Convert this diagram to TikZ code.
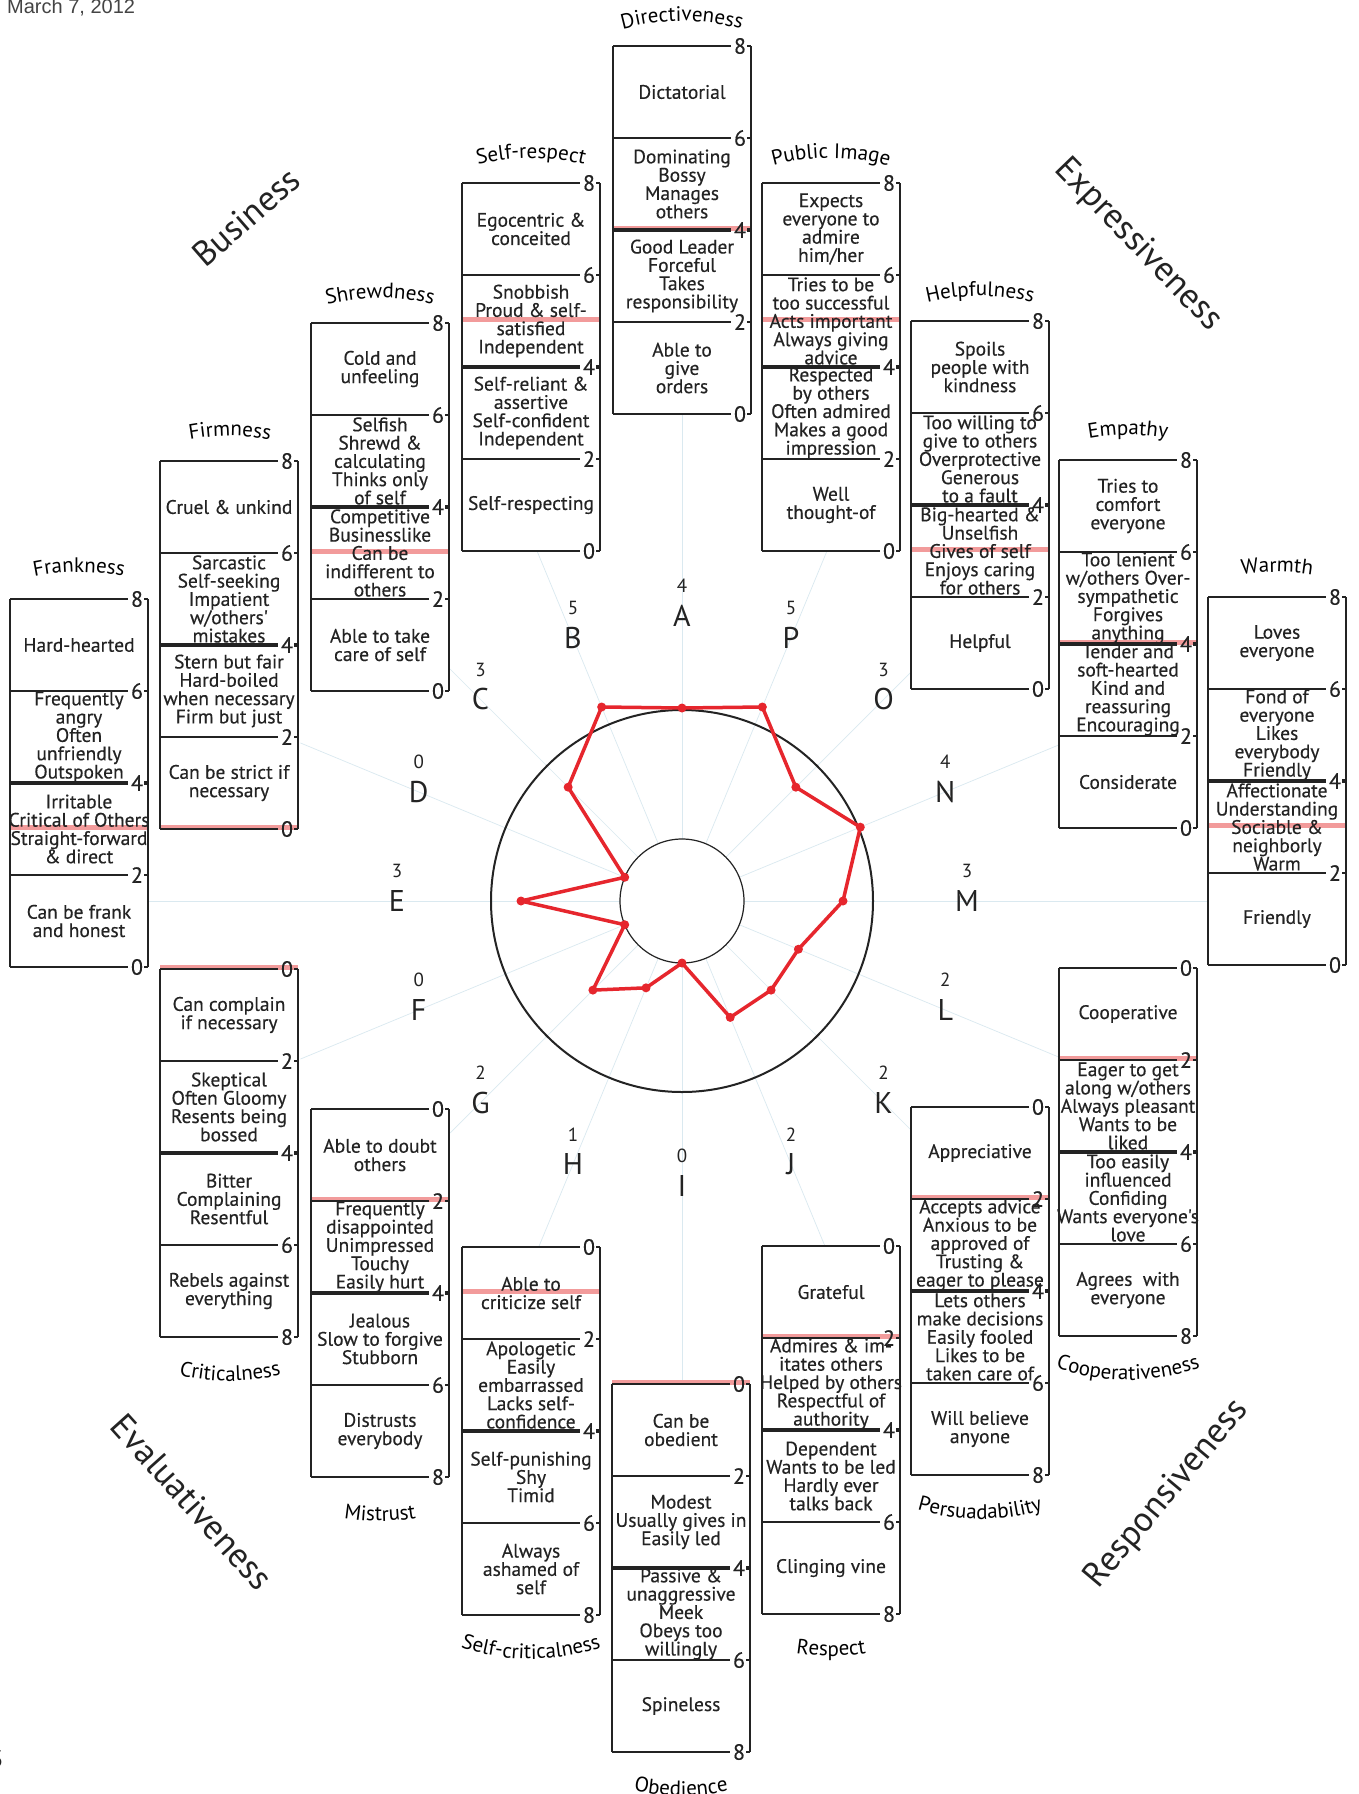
\documentclass[tikz,border=0pt]{standalone}
\usepackage{fontspec}
\setmainfont{PT Sans}
\newfontfamily\boxfam{PT Sans}[FakeBold=0.35]
\newfontfamily\datefont{Liberation Sans}
\usetikzlibrary{decorations.text}
\definecolor{inkc}{RGB}{35,35,35}
\definecolor{pinkc}{RGB}{242,155,155}
\definecolor{redc}{RGB}{230,38,45}
\definecolor{spokec}{RGB}{218,233,240}
\newcommand{\ttlfont}{\fontsize{21}{21}\selectfont}
\tikzset{
  rule/.style={line width=1.7pt, draw=inkc},
  pinkline/.style={line width=5pt, draw=pinkc},
  numlab/.style={font=\boxfam\fontsize{22}{22}\selectfont, text=inkc, inner sep=0pt},
  seg/.style={font=\boxfam\fontsize{19.5}{18.3}\selectfont, text=inkc, align=center, inner sep=0pt},
  boxarea/.style={inner sep=0pt, minimum width=138pt, minimum height=368pt, draw=none},
  spoke/.style={line width=0.7pt, draw=spokec},
  letterlab/.style={font=\fontsize{30}{30}\selectfont, text=inkc, inner sep=0pt},
  scorelab/.style={font=\fontsize{19}{19}\selectfont, text=inkc, inner sep=0pt},
  cornerlab/.style={font=\fontsize{35}{35}\selectfont, text=inkc, inner sep=0pt},
  redline/.style={line width=3.5pt, draw=redc, line join=round},
}
% #1 name, #2 left, #3 top (px from top), #4 1 = 8 at top / 0 = 0 at top, #5 score, #6-#9 texts
\newcommand{\ratebox}[9]{%
  \pgfmathsetmacro{\bxL}{#2}%
  \pgfmathsetmacro{\bxR}{#2+138}%
  \pgfmathsetmacro{\bxT}{-(#3)}%
  \pgfmathsetmacro{\bxB}{-(#3)-368}%
  \pgfmathsetmacro{\bxC}{#2+69}%
  \pgfmathsetmacro{\bxP}{ifthenelse(#4==1, \bxT-(8-#5)*46, \bxT-(#5)*46)+2}%
  \fill[white] (\bxL,\bxB) rectangle (\bxR,\bxT);
  \node[boxarea, anchor=north west] (#1) at (\bxL,\bxT) {};
  \draw[pinkline] (\bxL,\bxP) -- (\bxR,\bxP);
  \draw[rule] (\bxL,\bxT) -- (\bxL,\bxB);
  \draw[rule] (\bxR,\bxT) -- (\bxR,\bxB);
  \foreach \k in {0,...,4}{%
    \pgfmathsetmacro{\bxyy}{\bxT-92*\k}%
    \pgfmathtruncatemacro{\bxlab}{ifthenelse(#4==1, 8-2*\k, 2*\k)}%
    \ifnum\bxlab=4 \def\bxlw{4pt}\else\def\bxlw{1.7pt}\fi
    \draw[line width=\bxlw, draw=inkc] (\bxL,\bxyy) -- (\bxR-20,\bxyy);
    \draw[line width=\bxlw, draw=inkc] (\bxR-4,\bxyy) -- (\bxR,\bxyy);
    \node[numlab] at (\bxR-11,\bxyy) {\bxlab};
  }
  \node[seg] at (\bxC, \bxT-46) {#6};
  \node[seg] at (\bxC, \bxT-138) {#7};
  \node[seg] at (\bxC, \bxT-230) {#8};
  \node[seg] at (\bxC, \bxT-322) {#9};
}
% arched titles: #1 centre x, #2 baseline y (px from top), #3 text
\newcommand{\ttop}[3]{%
  \path[decorate, decoration={text along path, text={|\ttlfont|#3}, text align=center}]
    ({#1-110},{-(#2)-29.5}) .. controls ({#1-41.9},{-(#2)+9.8}) and ({#1+41.9},{-(#2)+9.8}) .. ({#1+110},{-(#2)-29.5});}
\newcommand{\tbot}[3]{%
  \path[decorate, decoration={text along path, text={|\ttlfont|#3}, text align=center}]
    ({#1-110},{-(#2)+29.5}) .. controls ({#1-41.9},{-(#2)-9.8}) and ({#1+41.9},{-(#2)-9.8}) .. ({#1+110},{-(#2)+29.5});}

\begin{document}
\begin{tikzpicture}[x=1pt,y=1pt]
\useasboundingbox (0,-1794) rectangle (1358,0);
\fill[white] (0,-1794) rectangle (1358,0);
\coordinate (ctr) at (682,-901);

% spokes
\foreach \lt/\ang/\tend in {A/90/488, B/112.5/379, C/135/328, D/157.5/413, E/180/533, F/202.5/413, G/225/328, H/247.5/374, I/270/483, J/292.5/374, K/315/324, L/337.5/408, M/0/526, N/22.5/408, O/45/324, P/67.5/379}{
  \coordinate (s\lt) at ([shift={(\ang:\tend)}]ctr);
  \coordinate (q\lt) at ([shift={(\ang:62)}]ctr);
  \draw[spoke] (q\lt) -- (s\lt);
}

% top boxes
\ratebox{bA}{613}{46}{1}{4}{Dictatorial}{Dominating\\Bossy\\Manages\\others}{Good Leader\\Forceful\\Takes\\responsibility}{Able to\\give\\orders}
\ratebox{bB}{462}{183}{1}{5}{Egocentric \&\\conceited}{Snobbish\\Proud \& self-\\satisfied\\Independent}{Self-reliant \&\\assertive\\Self-confident\\Independent}{Self-respecting}
\ratebox{bP}{762}{183}{1}{5}{Expects\\everyone to\\admire\\him/her}{Tries to be\\too successful\\Acts important\\Always giving\\advice}{Respected\\by others\\Often admired\\Makes a good\\impression}{Well\\thought-of}
\ratebox{bC}{311}{323}{1}{3}{Cold and\\unfeeling}{Selfish\\Shrewd \&\\calculating\\Thinks only\\of self}{Competitive\\Businesslike\\Can be\\indifferent to\\others}{Able to take\\care of self}
\ratebox{bO}{911}{321}{1}{3}{Spoils\\people with\\kindness}{Too willing to\\give to others\\Overprotective\\Generous\\to a fault}{Big-hearted \&\\Unselfish\\Gives of self\\Enjoys caring\\for others}{Helpful}
\ratebox{bD}{160}{461}{1}{0}{Cruel \& unkind}{Sarcastic\\Self-seeking\\Impatient\\w/others'\\mistakes}{Stern but fair\\Hard-boiled\\when necessary\\Firm but just}{Can be strict if\\necessary}
\ratebox{bN}{1059}{460}{1}{4}{Tries to\\comfort\\everyone}{Too lenient\\w/others Over-\\sympathetic\\Forgives\\anything}{Tender and\\soft-hearted\\Kind and\\reassuring\\Encouraging}{Considerate}
\ratebox{bE}{10}{599}{1}{3}{Hard-hearted}{Frequently\\angry\\Often\\unfriendly\\Outspoken}{Irritable\\Critical of Others\\Straight-forward\\\& direct}{Can be frank\\and honest}
\ratebox{bM}{1208}{597}{1}{3}{Loves\\everyone}{Fond of\\everyone\\Likes\\everybody\\Friendly}{Affectionate\\Understanding\\Sociable \&\\neighborly\\Warm}{Friendly}
% bottom boxes
\ratebox{bF}{160}{969}{0}{0}{Can complain\\if necessary}{Skeptical\\Often Gloomy\\Resents being\\bossed}{Bitter\\Complaining\\Resentful}{Rebels against\\everything}
\ratebox{bL}{1059}{968}{0}{2}{Cooperative}{Eager to get\\along w/others\\Always pleasant\\Wants to be\\liked}{Too easily\\influenced\\Confiding\\Wants everyone's\\love}{Agrees\ \ with\\everyone}
\ratebox{bG}{311}{1109}{0}{2}{Able to doubt\\others}{Frequently\\disappointed\\Unimpressed\\Touchy\\Easily hurt}{Jealous\\Slow to forgive\\Stubborn}{Distrusts\\everybody}
\ratebox{bK}{911}{1107}{0}{2}{Appreciative}{Accepts advice\\Anxious to be\\approved of\\Trusting \&\\eager to please}{Lets others\\make decisions\\Easily fooled\\Likes to be\\taken care of}{Will believe\\anyone}
\ratebox{bH}{462}{1247}{0}{1}{Able to\\criticize self}{Apologetic\\Easily\\embarrassed\\Lacks self-\\confidence}{Self-punishing\\Shy\\Timid}{Always\\ashamed of\\self}
\ratebox{bJ}{762}{1246}{0}{2}{Grateful}{Admires \& im-\\itates others\\Helped by others\\Respectful of\\authority}{Dependent\\Wants to be led\\Hardly ever\\talks back}{Clinging vine}
\ratebox{bI}{612}{1384}{0}{0}{Can be\\obedient}{Modest\\Usually gives in\\Easily led}{Passive \&\\unaggressive\\Meek\\Obeys too\\willingly}{Spineless}

% titles
\ttop{682}{21}{Directiveness}
\ttop{531}{158}{Self-respect}
\ttop{831}{158}{Public Image}
\ttop{380}{298}{Shrewdness}
\ttop{980}{296}{Helpfulness}
\ttop{230}{436}{Firmness}
\ttop{1128}{435}{Empathy}
\ttop{79}{572}{Frankness}
\ttop{1277}{572}{Warmth}
\tbot{230}{1381}{Criticalness}
\tbot{1128}{1380}{Cooperativeness}
\tbot{380}{1521}{Mistrust}
\tbot{980}{1519}{Persuadability}
\tbot{531}{1659}{Self-criticalness}
\tbot{831}{1656}{Respect}
\tbot{681}{1796}{Obedience}

% circles
\node[circle, draw=inkc, line width=2pt, minimum size=382pt, inner sep=0pt] (outer) at (ctr) {};
\node[circle, draw=inkc, line width=1.2pt, minimum size=124pt, inner sep=0pt] (inner) at (ctr) {};

% profile points, letters and scores
\foreach \lt/\ang/\sc/\rr in {A/90/4/193, B/112.5/5/210, C/135/3/161, D/157.5/0/62, E/180/3/161, F/202.5/0/62, G/225/2/126, H/247.5/1/94, I/270/0/62, J/292.5/2/126, K/315/2/126, L/337.5/2/126, M/0/3/161, N/22.5/4/193, O/45/3/161, P/67.5/5/210}{
  \coordinate (p\lt) at ([shift={(\ang:\rr)}]ctr);
  \node[letterlab] (l\lt) at ([shift={(\ang:285)}]ctr) {\lt};
  \node[scorelab] (n\lt) at ([yshift=30pt]l\lt.center) {\sc};
}
\draw[redline] (pA) -- (pP) -- (pO) -- (pN) -- (pM) -- (pL) -- (pK) -- (pJ) -- (pI) -- (pH) -- (pG) -- (pF) -- (pE) -- (pD) -- (pC) -- (pB) -- cycle;
\foreach \lt in {A,B,C,D,E,F,G,H,I,J,K,L,M,N,O,P}{
  \fill[redc] (p\lt) circle[radius=4.5];
}

% corner labels
\node[cornerlab, rotate=41] (business) at (246,-217) {Business};
\node[cornerlab, rotate=-46] (express) at (1138,-245) {Expressiveness};
\node[cornerlab, rotate=-48] (evalu) at (192,-1502) {Evaluativeness};
\node[cornerlab, rotate=50] (respon) at (1167,-1494) {Responsiveness};

% page marks
\node[anchor=base west, inner sep=0pt, text=inkc!85, font=\datefont\fontsize{20}{20}\selectfont] (date) at (7,-13) {March 7, 2012};
\node[anchor=base west, inner sep=0pt, text=inkc, font=\fontsize{24}{24}\selectfont] (pagenum) at (-10,-1767) {3};
\end{tikzpicture}
\end{document}
